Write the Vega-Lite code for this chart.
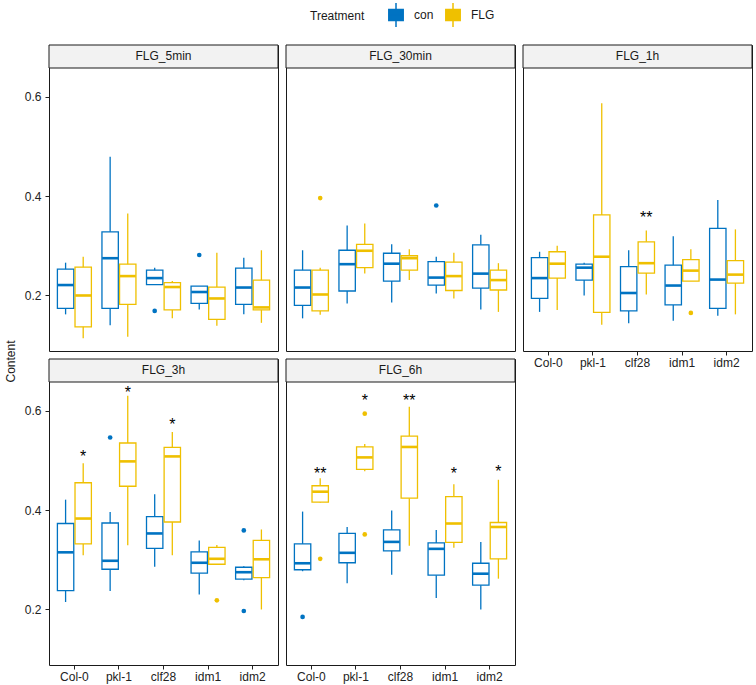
{
"$schema":"https://vega.github.io/schema/vega-lite/v6.json",
"padding":{"left":3,"top":2,"right":2,"bottom":2},
"config":{"font":"Liberation Sans","view":{"stroke":"#1a1a1a","strokeWidth":1},"axis":{"grid":false}},
"datasets":{
"panels":[{"Time":"FLG_5min"},{"Time":"FLG_30min"},{"Time":"FLG_1h"},{"Time":"FLG_3h"},{"Time":"FLG_6h"}],
"box":[
{"Time":"FLG_5min","Genotype":"Col-0","Treatment":"con","lower":0.162,"q1":0.174,"median":0.221,"q3":0.253,"upper":0.266},
{"Time":"FLG_5min","Genotype":"Col-0","Treatment":"FLG","lower":0.114,"q1":0.137,"median":0.200,"q3":0.257,"upper":0.278},
{"Time":"FLG_5min","Genotype":"pkl-1","Treatment":"con","lower":0.140,"q1":0.174,"median":0.275,"q3":0.328,"upper":0.479},
{"Time":"FLG_5min","Genotype":"pkl-1","Treatment":"FLG","lower":0.117,"q1":0.182,"median":0.239,"q3":0.263,"upper":0.365},
{"Time":"FLG_5min","Genotype":"clf28","Treatment":"con","lower":0.222,"q1":0.222,"median":0.235,"q3":0.251,"upper":0.256},
{"Time":"FLG_5min","Genotype":"clf28","Treatment":"FLG","lower":0.154,"q1":0.171,"median":0.217,"q3":0.226,"upper":0.229},
{"Time":"FLG_5min","Genotype":"idm1","Treatment":"con","lower":0.172,"q1":0.184,"median":0.207,"q3":0.219,"upper":0.219},
{"Time":"FLG_5min","Genotype":"idm1","Treatment":"FLG","lower":0.139,"q1":0.152,"median":0.194,"q3":0.217,"upper":0.286},
{"Time":"FLG_5min","Genotype":"idm2","Treatment":"con","lower":0.162,"q1":0.182,"median":0.216,"q3":0.255,"upper":0.276},
{"Time":"FLG_5min","Genotype":"idm2","Treatment":"FLG","lower":0.145,"q1":0.171,"median":0.176,"q3":0.231,"upper":0.291},
{"Time":"FLG_30min","Genotype":"Col-0","Treatment":"con","lower":0.154,"q1":0.180,"median":0.216,"q3":0.251,"upper":0.291},
{"Time":"FLG_30min","Genotype":"Col-0","Treatment":"FLG","lower":0.161,"q1":0.169,"median":0.202,"q3":0.251,"upper":0.256},
{"Time":"FLG_30min","Genotype":"pkl-1","Treatment":"con","lower":0.184,"q1":0.209,"median":0.263,"q3":0.291,"upper":0.341},
{"Time":"FLG_30min","Genotype":"pkl-1","Treatment":"FLG","lower":0.244,"q1":0.256,"median":0.290,"q3":0.303,"upper":0.345},
{"Time":"FLG_30min","Genotype":"clf28","Treatment":"con","lower":0.186,"q1":0.229,"median":0.264,"q3":0.285,"upper":0.303},
{"Time":"FLG_30min","Genotype":"clf28","Treatment":"FLG","lower":0.231,"q1":0.251,"median":0.275,"q3":0.280,"upper":0.293},
{"Time":"FLG_30min","Genotype":"idm1","Treatment":"con","lower":0.204,"q1":0.221,"median":0.236,"q3":0.268,"upper":0.278},
{"Time":"FLG_30min","Genotype":"idm1","Treatment":"FLG","lower":0.194,"q1":0.210,"median":0.239,"q3":0.267,"upper":0.286},
{"Time":"FLG_30min","Genotype":"idm2","Treatment":"con","lower":0.172,"q1":0.215,"median":0.244,"q3":0.302,"upper":0.322},
{"Time":"FLG_30min","Genotype":"idm2","Treatment":"FLG","lower":0.167,"q1":0.211,"median":0.231,"q3":0.251,"upper":0.265},
{"Time":"FLG_1h","Genotype":"Col-0","Treatment":"con","lower":0.167,"q1":0.194,"median":0.235,"q3":0.276,"upper":0.288},
{"Time":"FLG_1h","Genotype":"Col-0","Treatment":"FLG","lower":0.171,"q1":0.235,"median":0.264,"q3":0.288,"upper":0.300},
{"Time":"FLG_1h","Genotype":"pkl-1","Treatment":"con","lower":0.200,"q1":0.231,"median":0.256,"q3":0.263,"upper":0.266},
{"Time":"FLG_1h","Genotype":"pkl-1","Treatment":"FLG","lower":0.141,"q1":0.166,"median":0.278,"q3":0.362,"upper":0.587},
{"Time":"FLG_1h","Genotype":"clf28","Treatment":"con","lower":0.144,"q1":0.169,"median":0.205,"q3":0.258,"upper":0.291},
{"Time":"FLG_1h","Genotype":"clf28","Treatment":"FLG","lower":0.202,"q1":0.245,"median":0.265,"q3":0.308,"upper":0.331},
{"Time":"FLG_1h","Genotype":"idm1","Treatment":"con","lower":0.149,"q1":0.181,"median":0.220,"q3":0.261,"upper":0.319},
{"Time":"FLG_1h","Genotype":"idm1","Treatment":"FLG","lower":0.229,"q1":0.229,"median":0.250,"q3":0.272,"upper":0.293},
{"Time":"FLG_1h","Genotype":"idm2","Treatment":"con","lower":0.159,"q1":0.174,"median":0.232,"q3":0.335,"upper":0.392},
{"Time":"FLG_1h","Genotype":"idm2","Treatment":"FLG","lower":0.162,"q1":0.225,"median":0.242,"q3":0.270,"upper":0.333},
{"Time":"FLG_3h","Genotype":"Col-0","Treatment":"con","lower":0.215,"q1":0.238,"median":0.315,"q3":0.373,"upper":0.421},
{"Time":"FLG_3h","Genotype":"Col-0","Treatment":"FLG","lower":0.309,"q1":0.332,"median":0.383,"q3":0.455,"upper":0.494},
{"Time":"FLG_3h","Genotype":"pkl-1","Treatment":"con","lower":0.237,"q1":0.281,"median":0.298,"q3":0.374,"upper":0.396},
{"Time":"FLG_3h","Genotype":"pkl-1","Treatment":"FLG","lower":0.329,"q1":0.448,"median":0.498,"q3":0.535,"upper":0.630},
{"Time":"FLG_3h","Genotype":"clf28","Treatment":"con","lower":0.286,"q1":0.323,"median":0.353,"q3":0.387,"upper":0.432},
{"Time":"FLG_3h","Genotype":"clf28","Treatment":"FLG","lower":0.309,"q1":0.376,"median":0.508,"q3":0.526,"upper":0.557},
{"Time":"FLG_3h","Genotype":"idm1","Treatment":"con","lower":0.230,"q1":0.273,"median":0.294,"q3":0.316,"upper":0.339},
{"Time":"FLG_3h","Genotype":"idm1","Treatment":"FLG","lower":0.291,"q1":0.291,"median":0.302,"q3":0.325,"upper":0.330},
{"Time":"FLG_3h","Genotype":"idm2","Treatment":"con","lower":0.259,"q1":0.261,"median":0.275,"q3":0.285,"upper":0.287},
{"Time":"FLG_3h","Genotype":"idm2","Treatment":"FLG","lower":0.200,"q1":0.264,"median":0.301,"q3":0.339,"upper":0.361},
{"Time":"FLG_6h","Genotype":"Col-0","Treatment":"con","lower":0.277,"q1":0.280,"median":0.293,"q3":0.332,"upper":0.397},
{"Time":"FLG_6h","Genotype":"Col-0","Treatment":"FLG","lower":0.415,"q1":0.416,"median":0.437,"q3":0.449,"upper":0.464},
{"Time":"FLG_6h","Genotype":"pkl-1","Treatment":"con","lower":0.253,"q1":0.294,"median":0.314,"q3":0.353,"upper":0.366},
{"Time":"FLG_6h","Genotype":"pkl-1","Treatment":"FLG","lower":0.478,"q1":0.482,"median":0.506,"q3":0.527,"upper":0.533},
{"Time":"FLG_6h","Genotype":"clf28","Treatment":"con","lower":0.270,"q1":0.318,"median":0.336,"q3":0.360,"upper":0.399},
{"Time":"FLG_6h","Genotype":"clf28","Treatment":"FLG","lower":0.328,"q1":0.424,"median":0.527,"q3":0.549,"upper":0.608},
{"Time":"FLG_6h","Genotype":"idm1","Treatment":"con","lower":0.223,"q1":0.269,"median":0.322,"q3":0.334,"upper":0.360},
{"Time":"FLG_6h","Genotype":"idm1","Treatment":"FLG","lower":0.324,"q1":0.335,"median":0.373,"q3":0.427,"upper":0.452},
{"Time":"FLG_6h","Genotype":"idm2","Treatment":"con","lower":0.200,"q1":0.249,"median":0.272,"q3":0.293,"upper":0.336},
{"Time":"FLG_6h","Genotype":"idm2","Treatment":"FLG","lower":0.262,"q1":0.302,"median":0.366,"q3":0.375,"upper":0.461}
],
"out":[
{"Time":"FLG_5min","Genotype":"clf28","Treatment":"con","value":0.169},
{"Time":"FLG_5min","Genotype":"idm1","Treatment":"con","value":0.2815},
{"Time":"FLG_30min","Genotype":"Col-0","Treatment":"FLG","value":0.396},
{"Time":"FLG_30min","Genotype":"idm1","Treatment":"con","value":0.381},
{"Time":"FLG_1h","Genotype":"idm1","Treatment":"FLG","value":0.165},
{"Time":"FLG_3h","Genotype":"pkl-1","Treatment":"con","value":0.546},
{"Time":"FLG_3h","Genotype":"idm1","Treatment":"FLG","value":0.2185},
{"Time":"FLG_3h","Genotype":"idm2","Treatment":"con","value":0.359},
{"Time":"FLG_3h","Genotype":"idm2","Treatment":"con","value":0.197},
{"Time":"FLG_6h","Genotype":"Col-0","Treatment":"con","value":0.185},
{"Time":"FLG_6h","Genotype":"Col-0","Treatment":"FLG","value":0.302},
{"Time":"FLG_6h","Genotype":"pkl-1","Treatment":"FLG","value":0.594},
{"Time":"FLG_6h","Genotype":"pkl-1","Treatment":"FLG","value":0.351}
],
"sig":[
{"Time":"FLG_1h","Genotype":"clf28","Treatment":"FLG","y":0.362,"label":"**"},
{"Time":"FLG_3h","Genotype":"Col-0","Treatment":"FLG","y":0.513,"label":"*"},
{"Time":"FLG_3h","Genotype":"pkl-1","Treatment":"FLG","y":0.642,"label":"*"},
{"Time":"FLG_3h","Genotype":"clf28","Treatment":"FLG","y":0.577,"label":"*"},
{"Time":"FLG_6h","Genotype":"Col-0","Treatment":"FLG","y":0.478,"label":"**"},
{"Time":"FLG_6h","Genotype":"pkl-1","Treatment":"FLG","y":0.625,"label":"*"},
{"Time":"FLG_6h","Genotype":"clf28","Treatment":"FLG","y":0.626,"label":"**"},
{"Time":"FLG_6h","Genotype":"idm1","Treatment":"FLG","y":0.478,"label":"*"},
{"Time":"FLG_6h","Genotype":"idm2","Treatment":"FLG","y":0.482,"label":"*"}
]
},
"columns":3,
"spacing":8,
"bounds":"flush",
"resolve":{"scale":{"color":"shared"},"legend":{"color":"shared"}},
"concat":[
{"width":229,"height":306,"layer":[
{"data":{"name":"panels"},"transform":[{"filter":"datum.Time==='FLG_5min'"}],"mark":{"type":"rect","fill":"#F2F2F2","stroke":"#1a1a1a","strokeWidth":1},"encoding":{"y":{"datum":0.704,"type":"quantitative","scale":{"domain":[0.0883,0.704],"nice":false,"zero":false},"axis":{"values":[0.2,0.4,0.6],"format":".1f","title":null,"domain":false,"tickSize":4,"tickColor":"#222","labelColor":"#222","labelFontSize":12,"labelPadding":4}},"y2":{"datum":0.6577}}},
{"data":{"name":"panels"},"transform":[{"filter":"datum.Time==='FLG_5min'"}],"mark":{"type":"text","fontSize":12,"color":"#1a1a1a","baseline":"middle"},"encoding":{"y":{"datum":0.681,"type":"quantitative","scale":{"domain":[0.0883,0.704],"nice":false,"zero":false},"axis":{"values":[0.2,0.4,0.6],"format":".1f","title":null,"domain":false,"tickSize":4,"tickColor":"#222","labelColor":"#222","labelFontSize":12,"labelPadding":4}},"text":{"field":"Time"}}},
{"data":{"name":"box"},"transform":[{"filter":"datum.Time==='FLG_5min'"}],"mark":{"type":"rule","strokeWidth":1.3,"opacity":1},"encoding":{"x":{"field":"Genotype","type":"nominal","scale":{"domain":["Col-0","pkl-1","clf28","idm1","idm2"],"paddingInner":0,"paddingOuter":0.07},"axis":null},"xOffset":{"field":"Treatment","type":"nominal","scale":{"domain":["con","FLG"],"paddingInner":0.07,"paddingOuter":0.3}},"y":{"field":"lower","type":"quantitative","scale":{"domain":[0.0883,0.704],"nice":false,"zero":false},"axis":{"values":[0.2,0.4,0.6],"format":".1f","title":null,"domain":false,"tickSize":4,"tickColor":"#222","labelColor":"#222","labelFontSize":12,"labelPadding":4}},"y2":{"field":"q1"},"color":{"field":"Treatment","type":"nominal","scale":{"domain":["con","FLG"],"range":["#0073C2","#EFC000"]},"legend":{"title":"Treatment","orient":"none","legendX":261,"legendY":-43,"direction":"horizontal","titleOrient":"left","titleAnchor":"middle","titlePadding":18,"titleFontSize":12,"titleFontWeight":"normal","titleColor":"#1a1a1a","labelFontSize":12,"labelColor":"#1a1a1a","labelOffset":5,"columnPadding":6,"symbolType":"M-0.6,-0.45H0.6V0.45H-0.6Z M-0.6,0H0.6 M0,-0.45V-1 M0,0.45V1","symbolSize":576,"symbolStrokeWidth":1.5,"symbolOpacity":1,"symbolFillColor":"transparent","encode":{"symbols":{"update":{"fill":{"value":"transparent"},"stroke":{"scale":"color","field":"value"},"opacity":{"value":1}}}}}}}},
{"data":{"name":"box"},"transform":[{"filter":"datum.Time==='FLG_5min'"}],"mark":{"type":"rule","strokeWidth":1.3,"opacity":1},"encoding":{"x":{"field":"Genotype","type":"nominal","scale":{"domain":["Col-0","pkl-1","clf28","idm1","idm2"],"paddingInner":0,"paddingOuter":0.07},"axis":null},"xOffset":{"field":"Treatment","type":"nominal","scale":{"domain":["con","FLG"],"paddingInner":0.07,"paddingOuter":0.3}},"y":{"field":"q3","type":"quantitative","scale":{"domain":[0.0883,0.704],"nice":false,"zero":false},"axis":{"values":[0.2,0.4,0.6],"format":".1f","title":null,"domain":false,"tickSize":4,"tickColor":"#222","labelColor":"#222","labelFontSize":12,"labelPadding":4}},"y2":{"field":"upper"},"color":{"field":"Treatment","type":"nominal","scale":{"domain":["con","FLG"],"range":["#0073C2","#EFC000"]},"legend":{"title":"Treatment","orient":"none","legendX":261,"legendY":-43,"direction":"horizontal","titleOrient":"left","titleAnchor":"middle","titlePadding":18,"titleFontSize":12,"titleFontWeight":"normal","titleColor":"#1a1a1a","labelFontSize":12,"labelColor":"#1a1a1a","labelOffset":5,"columnPadding":6,"symbolType":"M-0.6,-0.45H0.6V0.45H-0.6Z M-0.6,0H0.6 M0,-0.45V-1 M0,0.45V1","symbolSize":576,"symbolStrokeWidth":1.5,"symbolOpacity":1,"symbolFillColor":"transparent","encode":{"symbols":{"update":{"fill":{"value":"transparent"},"stroke":{"scale":"color","field":"value"},"opacity":{"value":1}}}}}}}},
{"data":{"name":"box"},"transform":[{"filter":"datum.Time==='FLG_5min'"}],"mark":{"type":"bar","filled":false,"strokeWidth":1.3,"opacity":1},"encoding":{"x":{"field":"Genotype","type":"nominal","scale":{"domain":["Col-0","pkl-1","clf28","idm1","idm2"],"paddingInner":0,"paddingOuter":0.07},"axis":null},"xOffset":{"field":"Treatment","type":"nominal","scale":{"domain":["con","FLG"],"paddingInner":0.07,"paddingOuter":0.3}},"y":{"field":"q1","type":"quantitative","scale":{"domain":[0.0883,0.704],"nice":false,"zero":false},"axis":{"values":[0.2,0.4,0.6],"format":".1f","title":null,"domain":false,"tickSize":4,"tickColor":"#222","labelColor":"#222","labelFontSize":12,"labelPadding":4}},"y2":{"field":"q3"},"color":{"field":"Treatment","type":"nominal","scale":{"domain":["con","FLG"],"range":["#0073C2","#EFC000"]},"legend":{"title":"Treatment","orient":"none","legendX":261,"legendY":-43,"direction":"horizontal","titleOrient":"left","titleAnchor":"middle","titlePadding":18,"titleFontSize":12,"titleFontWeight":"normal","titleColor":"#1a1a1a","labelFontSize":12,"labelColor":"#1a1a1a","labelOffset":5,"columnPadding":6,"symbolType":"M-0.6,-0.45H0.6V0.45H-0.6Z M-0.6,0H0.6 M0,-0.45V-1 M0,0.45V1","symbolSize":576,"symbolStrokeWidth":1.5,"symbolOpacity":1,"symbolFillColor":"transparent","encode":{"symbols":{"update":{"fill":{"value":"transparent"},"stroke":{"scale":"color","field":"value"},"opacity":{"value":1}}}}}}}},
{"data":{"name":"box"},"transform":[{"filter":"datum.Time==='FLG_5min'"}],"mark":{"type":"tick","orient":"horizontal","thickness":2.6,"size":16,"opacity":1},"encoding":{"x":{"field":"Genotype","type":"nominal","scale":{"domain":["Col-0","pkl-1","clf28","idm1","idm2"],"paddingInner":0,"paddingOuter":0.07},"axis":null},"xOffset":{"field":"Treatment","type":"nominal","scale":{"domain":["con","FLG"],"paddingInner":0.07,"paddingOuter":0.3}},"y":{"field":"median","type":"quantitative","scale":{"domain":[0.0883,0.704],"nice":false,"zero":false},"axis":{"values":[0.2,0.4,0.6],"format":".1f","title":null,"domain":false,"tickSize":4,"tickColor":"#222","labelColor":"#222","labelFontSize":12,"labelPadding":4}},"color":{"field":"Treatment","type":"nominal","scale":{"domain":["con","FLG"],"range":["#0073C2","#EFC000"]},"legend":{"title":"Treatment","orient":"none","legendX":261,"legendY":-43,"direction":"horizontal","titleOrient":"left","titleAnchor":"middle","titlePadding":18,"titleFontSize":12,"titleFontWeight":"normal","titleColor":"#1a1a1a","labelFontSize":12,"labelColor":"#1a1a1a","labelOffset":5,"columnPadding":6,"symbolType":"M-0.6,-0.45H0.6V0.45H-0.6Z M-0.6,0H0.6 M0,-0.45V-1 M0,0.45V1","symbolSize":576,"symbolStrokeWidth":1.5,"symbolOpacity":1,"symbolFillColor":"transparent","encode":{"symbols":{"update":{"fill":{"value":"transparent"},"stroke":{"scale":"color","field":"value"},"opacity":{"value":1}}}}}}}},
{"data":{"name":"out"},"transform":[{"filter":"datum.Time==='FLG_5min'"}],"mark":{"type":"point","filled":true,"size":22,"opacity":1},"encoding":{"x":{"field":"Genotype","type":"nominal","scale":{"domain":["Col-0","pkl-1","clf28","idm1","idm2"],"paddingInner":0,"paddingOuter":0.07},"axis":null},"xOffset":{"field":"Treatment","type":"nominal","scale":{"domain":["con","FLG"],"paddingInner":0.07,"paddingOuter":0.3}},"y":{"field":"value","type":"quantitative","scale":{"domain":[0.0883,0.704],"nice":false,"zero":false},"axis":{"values":[0.2,0.4,0.6],"format":".1f","title":null,"domain":false,"tickSize":4,"tickColor":"#222","labelColor":"#222","labelFontSize":12,"labelPadding":4}},"color":{"field":"Treatment","type":"nominal","scale":{"domain":["con","FLG"],"range":["#0073C2","#EFC000"]},"legend":{"title":"Treatment","orient":"none","legendX":261,"legendY":-43,"direction":"horizontal","titleOrient":"left","titleAnchor":"middle","titlePadding":18,"titleFontSize":12,"titleFontWeight":"normal","titleColor":"#1a1a1a","labelFontSize":12,"labelColor":"#1a1a1a","labelOffset":5,"columnPadding":6,"symbolType":"M-0.6,-0.45H0.6V0.45H-0.6Z M-0.6,0H0.6 M0,-0.45V-1 M0,0.45V1","symbolSize":576,"symbolStrokeWidth":1.5,"symbolOpacity":1,"symbolFillColor":"transparent","encode":{"symbols":{"update":{"fill":{"value":"transparent"},"stroke":{"scale":"color","field":"value"},"opacity":{"value":1}}}}}}}}
]},
{"width":229,"height":306,"layer":[
{"data":{"name":"panels"},"transform":[{"filter":"datum.Time==='FLG_30min'"}],"mark":{"type":"rect","fill":"#F2F2F2","stroke":"#1a1a1a","strokeWidth":1},"encoding":{"y":{"datum":0.704,"type":"quantitative","scale":{"domain":[0.0883,0.704],"nice":false,"zero":false},"axis":null},"y2":{"datum":0.6577}}},
{"data":{"name":"panels"},"transform":[{"filter":"datum.Time==='FLG_30min'"}],"mark":{"type":"text","fontSize":12,"color":"#1a1a1a","baseline":"middle"},"encoding":{"y":{"datum":0.681,"type":"quantitative","scale":{"domain":[0.0883,0.704],"nice":false,"zero":false},"axis":null},"text":{"field":"Time"}}},
{"data":{"name":"box"},"transform":[{"filter":"datum.Time==='FLG_30min'"}],"mark":{"type":"rule","strokeWidth":1.3,"opacity":1},"encoding":{"x":{"field":"Genotype","type":"nominal","scale":{"domain":["Col-0","pkl-1","clf28","idm1","idm2"],"paddingInner":0,"paddingOuter":0.07},"axis":null},"xOffset":{"field":"Treatment","type":"nominal","scale":{"domain":["con","FLG"],"paddingInner":0.07,"paddingOuter":0.3}},"y":{"field":"lower","type":"quantitative","scale":{"domain":[0.0883,0.704],"nice":false,"zero":false},"axis":null},"y2":{"field":"q1"},"color":{"field":"Treatment","type":"nominal","scale":{"domain":["con","FLG"],"range":["#0073C2","#EFC000"]}}}},
{"data":{"name":"box"},"transform":[{"filter":"datum.Time==='FLG_30min'"}],"mark":{"type":"rule","strokeWidth":1.3,"opacity":1},"encoding":{"x":{"field":"Genotype","type":"nominal","scale":{"domain":["Col-0","pkl-1","clf28","idm1","idm2"],"paddingInner":0,"paddingOuter":0.07},"axis":null},"xOffset":{"field":"Treatment","type":"nominal","scale":{"domain":["con","FLG"],"paddingInner":0.07,"paddingOuter":0.3}},"y":{"field":"q3","type":"quantitative","scale":{"domain":[0.0883,0.704],"nice":false,"zero":false},"axis":null},"y2":{"field":"upper"},"color":{"field":"Treatment","type":"nominal","scale":{"domain":["con","FLG"],"range":["#0073C2","#EFC000"]}}}},
{"data":{"name":"box"},"transform":[{"filter":"datum.Time==='FLG_30min'"}],"mark":{"type":"bar","filled":false,"strokeWidth":1.3,"opacity":1},"encoding":{"x":{"field":"Genotype","type":"nominal","scale":{"domain":["Col-0","pkl-1","clf28","idm1","idm2"],"paddingInner":0,"paddingOuter":0.07},"axis":null},"xOffset":{"field":"Treatment","type":"nominal","scale":{"domain":["con","FLG"],"paddingInner":0.07,"paddingOuter":0.3}},"y":{"field":"q1","type":"quantitative","scale":{"domain":[0.0883,0.704],"nice":false,"zero":false},"axis":null},"y2":{"field":"q3"},"color":{"field":"Treatment","type":"nominal","scale":{"domain":["con","FLG"],"range":["#0073C2","#EFC000"]}}}},
{"data":{"name":"box"},"transform":[{"filter":"datum.Time==='FLG_30min'"}],"mark":{"type":"tick","orient":"horizontal","thickness":2.6,"size":16,"opacity":1},"encoding":{"x":{"field":"Genotype","type":"nominal","scale":{"domain":["Col-0","pkl-1","clf28","idm1","idm2"],"paddingInner":0,"paddingOuter":0.07},"axis":null},"xOffset":{"field":"Treatment","type":"nominal","scale":{"domain":["con","FLG"],"paddingInner":0.07,"paddingOuter":0.3}},"y":{"field":"median","type":"quantitative","scale":{"domain":[0.0883,0.704],"nice":false,"zero":false},"axis":null},"color":{"field":"Treatment","type":"nominal","scale":{"domain":["con","FLG"],"range":["#0073C2","#EFC000"]}}}},
{"data":{"name":"out"},"transform":[{"filter":"datum.Time==='FLG_30min'"}],"mark":{"type":"point","filled":true,"size":22,"opacity":1},"encoding":{"x":{"field":"Genotype","type":"nominal","scale":{"domain":["Col-0","pkl-1","clf28","idm1","idm2"],"paddingInner":0,"paddingOuter":0.07},"axis":null},"xOffset":{"field":"Treatment","type":"nominal","scale":{"domain":["con","FLG"],"paddingInner":0.07,"paddingOuter":0.3}},"y":{"field":"value","type":"quantitative","scale":{"domain":[0.0883,0.704],"nice":false,"zero":false},"axis":null},"color":{"field":"Treatment","type":"nominal","scale":{"domain":["con","FLG"],"range":["#0073C2","#EFC000"]}}}}
]},
{"width":229,"height":306,"layer":[
{"data":{"name":"panels"},"transform":[{"filter":"datum.Time==='FLG_1h'"}],"mark":{"type":"rect","fill":"#F2F2F2","stroke":"#1a1a1a","strokeWidth":1},"encoding":{"y":{"datum":0.704,"type":"quantitative","scale":{"domain":[0.0883,0.704],"nice":false,"zero":false},"axis":null},"y2":{"datum":0.6577}}},
{"data":{"name":"panels"},"transform":[{"filter":"datum.Time==='FLG_1h'"}],"mark":{"type":"text","fontSize":12,"color":"#1a1a1a","baseline":"middle"},"encoding":{"y":{"datum":0.681,"type":"quantitative","scale":{"domain":[0.0883,0.704],"nice":false,"zero":false},"axis":null},"text":{"field":"Time"}}},
{"data":{"name":"box"},"transform":[{"filter":"datum.Time==='FLG_1h'"}],"mark":{"type":"rule","strokeWidth":1.3,"opacity":1},"encoding":{"x":{"field":"Genotype","type":"nominal","scale":{"domain":["Col-0","pkl-1","clf28","idm1","idm2"],"paddingInner":0,"paddingOuter":0.07},"axis":{"title":null,"labelAngle":0,"domain":false,"tickSize":4,"tickColor":"#222","labelColor":"#222","labelFontSize":12,"labelPadding":2}},"xOffset":{"field":"Treatment","type":"nominal","scale":{"domain":["con","FLG"],"paddingInner":0.07,"paddingOuter":0.3}},"y":{"field":"lower","type":"quantitative","scale":{"domain":[0.0883,0.704],"nice":false,"zero":false},"axis":null},"y2":{"field":"q1"},"color":{"field":"Treatment","type":"nominal","scale":{"domain":["con","FLG"],"range":["#0073C2","#EFC000"]}}}},
{"data":{"name":"box"},"transform":[{"filter":"datum.Time==='FLG_1h'"}],"mark":{"type":"rule","strokeWidth":1.3,"opacity":1},"encoding":{"x":{"field":"Genotype","type":"nominal","scale":{"domain":["Col-0","pkl-1","clf28","idm1","idm2"],"paddingInner":0,"paddingOuter":0.07},"axis":{"title":null,"labelAngle":0,"domain":false,"tickSize":4,"tickColor":"#222","labelColor":"#222","labelFontSize":12,"labelPadding":2}},"xOffset":{"field":"Treatment","type":"nominal","scale":{"domain":["con","FLG"],"paddingInner":0.07,"paddingOuter":0.3}},"y":{"field":"q3","type":"quantitative","scale":{"domain":[0.0883,0.704],"nice":false,"zero":false},"axis":null},"y2":{"field":"upper"},"color":{"field":"Treatment","type":"nominal","scale":{"domain":["con","FLG"],"range":["#0073C2","#EFC000"]}}}},
{"data":{"name":"box"},"transform":[{"filter":"datum.Time==='FLG_1h'"}],"mark":{"type":"bar","filled":false,"strokeWidth":1.3,"opacity":1},"encoding":{"x":{"field":"Genotype","type":"nominal","scale":{"domain":["Col-0","pkl-1","clf28","idm1","idm2"],"paddingInner":0,"paddingOuter":0.07},"axis":{"title":null,"labelAngle":0,"domain":false,"tickSize":4,"tickColor":"#222","labelColor":"#222","labelFontSize":12,"labelPadding":2}},"xOffset":{"field":"Treatment","type":"nominal","scale":{"domain":["con","FLG"],"paddingInner":0.07,"paddingOuter":0.3}},"y":{"field":"q1","type":"quantitative","scale":{"domain":[0.0883,0.704],"nice":false,"zero":false},"axis":null},"y2":{"field":"q3"},"color":{"field":"Treatment","type":"nominal","scale":{"domain":["con","FLG"],"range":["#0073C2","#EFC000"]}}}},
{"data":{"name":"box"},"transform":[{"filter":"datum.Time==='FLG_1h'"}],"mark":{"type":"tick","orient":"horizontal","thickness":2.6,"size":16,"opacity":1},"encoding":{"x":{"field":"Genotype","type":"nominal","scale":{"domain":["Col-0","pkl-1","clf28","idm1","idm2"],"paddingInner":0,"paddingOuter":0.07},"axis":{"title":null,"labelAngle":0,"domain":false,"tickSize":4,"tickColor":"#222","labelColor":"#222","labelFontSize":12,"labelPadding":2}},"xOffset":{"field":"Treatment","type":"nominal","scale":{"domain":["con","FLG"],"paddingInner":0.07,"paddingOuter":0.3}},"y":{"field":"median","type":"quantitative","scale":{"domain":[0.0883,0.704],"nice":false,"zero":false},"axis":null},"color":{"field":"Treatment","type":"nominal","scale":{"domain":["con","FLG"],"range":["#0073C2","#EFC000"]}}}},
{"data":{"name":"out"},"transform":[{"filter":"datum.Time==='FLG_1h'"}],"mark":{"type":"point","filled":true,"size":22,"opacity":1},"encoding":{"x":{"field":"Genotype","type":"nominal","scale":{"domain":["Col-0","pkl-1","clf28","idm1","idm2"],"paddingInner":0,"paddingOuter":0.07},"axis":{"title":null,"labelAngle":0,"domain":false,"tickSize":4,"tickColor":"#222","labelColor":"#222","labelFontSize":12,"labelPadding":2}},"xOffset":{"field":"Treatment","type":"nominal","scale":{"domain":["con","FLG"],"paddingInner":0.07,"paddingOuter":0.3}},"y":{"field":"value","type":"quantitative","scale":{"domain":[0.0883,0.704],"nice":false,"zero":false},"axis":null},"color":{"field":"Treatment","type":"nominal","scale":{"domain":["con","FLG"],"range":["#0073C2","#EFC000"]}}}},
{"data":{"name":"sig"},"transform":[{"filter":"datum.Time==='FLG_1h'"}],"mark":{"type":"text","fontSize":16,"baseline":"middle","dy":3,"color":"black"},"encoding":{"x":{"field":"Genotype","type":"nominal","scale":{"domain":["Col-0","pkl-1","clf28","idm1","idm2"],"paddingInner":0,"paddingOuter":0.07},"axis":{"title":null,"labelAngle":0,"domain":false,"tickSize":4,"tickColor":"#222","labelColor":"#222","labelFontSize":12,"labelPadding":2}},"xOffset":{"field":"Treatment","type":"nominal","scale":{"domain":["con","FLG"],"paddingInner":0.07,"paddingOuter":0.3}},"y":{"field":"y","type":"quantitative","scale":{"domain":[0.0883,0.704],"nice":false,"zero":false},"axis":null},"text":{"field":"label"}}}
]},
{"width":229,"height":306,"layer":[
{"data":{"name":"panels"},"transform":[{"filter":"datum.Time==='FLG_3h'"}],"mark":{"type":"rect","fill":"#F2F2F2","stroke":"#1a1a1a","strokeWidth":1},"encoding":{"y":{"datum":0.704,"type":"quantitative","scale":{"domain":[0.0883,0.704],"nice":false,"zero":false},"axis":{"values":[0.2,0.4,0.6],"format":".1f","title":"Content","titleY":2,"titleFontSize":12,"titleFontWeight":"normal","titleColor":"#1a1a1a","titlePadding":7,"domain":false,"tickSize":4,"tickColor":"#222","labelColor":"#222","labelFontSize":12,"labelPadding":4}},"y2":{"datum":0.6577}}},
{"data":{"name":"panels"},"transform":[{"filter":"datum.Time==='FLG_3h'"}],"mark":{"type":"text","fontSize":12,"color":"#1a1a1a","baseline":"middle"},"encoding":{"y":{"datum":0.681,"type":"quantitative","scale":{"domain":[0.0883,0.704],"nice":false,"zero":false},"axis":{"values":[0.2,0.4,0.6],"format":".1f","title":"Content","titleY":2,"titleFontSize":12,"titleFontWeight":"normal","titleColor":"#1a1a1a","titlePadding":7,"domain":false,"tickSize":4,"tickColor":"#222","labelColor":"#222","labelFontSize":12,"labelPadding":4}},"text":{"field":"Time"}}},
{"data":{"name":"box"},"transform":[{"filter":"datum.Time==='FLG_3h'"}],"mark":{"type":"rule","strokeWidth":1.3,"opacity":1},"encoding":{"x":{"field":"Genotype","type":"nominal","scale":{"domain":["Col-0","pkl-1","clf28","idm1","idm2"],"paddingInner":0,"paddingOuter":0.07},"axis":{"title":null,"labelAngle":0,"domain":false,"tickSize":4,"tickColor":"#222","labelColor":"#222","labelFontSize":12,"labelPadding":2}},"xOffset":{"field":"Treatment","type":"nominal","scale":{"domain":["con","FLG"],"paddingInner":0.07,"paddingOuter":0.3}},"y":{"field":"lower","type":"quantitative","scale":{"domain":[0.0883,0.704],"nice":false,"zero":false},"axis":{"values":[0.2,0.4,0.6],"format":".1f","title":"Content","titleY":2,"titleFontSize":12,"titleFontWeight":"normal","titleColor":"#1a1a1a","titlePadding":7,"domain":false,"tickSize":4,"tickColor":"#222","labelColor":"#222","labelFontSize":12,"labelPadding":4}},"y2":{"field":"q1"},"color":{"field":"Treatment","type":"nominal","scale":{"domain":["con","FLG"],"range":["#0073C2","#EFC000"]}}}},
{"data":{"name":"box"},"transform":[{"filter":"datum.Time==='FLG_3h'"}],"mark":{"type":"rule","strokeWidth":1.3,"opacity":1},"encoding":{"x":{"field":"Genotype","type":"nominal","scale":{"domain":["Col-0","pkl-1","clf28","idm1","idm2"],"paddingInner":0,"paddingOuter":0.07},"axis":{"title":null,"labelAngle":0,"domain":false,"tickSize":4,"tickColor":"#222","labelColor":"#222","labelFontSize":12,"labelPadding":2}},"xOffset":{"field":"Treatment","type":"nominal","scale":{"domain":["con","FLG"],"paddingInner":0.07,"paddingOuter":0.3}},"y":{"field":"q3","type":"quantitative","scale":{"domain":[0.0883,0.704],"nice":false,"zero":false},"axis":{"values":[0.2,0.4,0.6],"format":".1f","title":"Content","titleY":2,"titleFontSize":12,"titleFontWeight":"normal","titleColor":"#1a1a1a","titlePadding":7,"domain":false,"tickSize":4,"tickColor":"#222","labelColor":"#222","labelFontSize":12,"labelPadding":4}},"y2":{"field":"upper"},"color":{"field":"Treatment","type":"nominal","scale":{"domain":["con","FLG"],"range":["#0073C2","#EFC000"]}}}},
{"data":{"name":"box"},"transform":[{"filter":"datum.Time==='FLG_3h'"}],"mark":{"type":"bar","filled":false,"strokeWidth":1.3,"opacity":1},"encoding":{"x":{"field":"Genotype","type":"nominal","scale":{"domain":["Col-0","pkl-1","clf28","idm1","idm2"],"paddingInner":0,"paddingOuter":0.07},"axis":{"title":null,"labelAngle":0,"domain":false,"tickSize":4,"tickColor":"#222","labelColor":"#222","labelFontSize":12,"labelPadding":2}},"xOffset":{"field":"Treatment","type":"nominal","scale":{"domain":["con","FLG"],"paddingInner":0.07,"paddingOuter":0.3}},"y":{"field":"q1","type":"quantitative","scale":{"domain":[0.0883,0.704],"nice":false,"zero":false},"axis":{"values":[0.2,0.4,0.6],"format":".1f","title":"Content","titleY":2,"titleFontSize":12,"titleFontWeight":"normal","titleColor":"#1a1a1a","titlePadding":7,"domain":false,"tickSize":4,"tickColor":"#222","labelColor":"#222","labelFontSize":12,"labelPadding":4}},"y2":{"field":"q3"},"color":{"field":"Treatment","type":"nominal","scale":{"domain":["con","FLG"],"range":["#0073C2","#EFC000"]}}}},
{"data":{"name":"box"},"transform":[{"filter":"datum.Time==='FLG_3h'"}],"mark":{"type":"tick","orient":"horizontal","thickness":2.6,"size":16,"opacity":1},"encoding":{"x":{"field":"Genotype","type":"nominal","scale":{"domain":["Col-0","pkl-1","clf28","idm1","idm2"],"paddingInner":0,"paddingOuter":0.07},"axis":{"title":null,"labelAngle":0,"domain":false,"tickSize":4,"tickColor":"#222","labelColor":"#222","labelFontSize":12,"labelPadding":2}},"xOffset":{"field":"Treatment","type":"nominal","scale":{"domain":["con","FLG"],"paddingInner":0.07,"paddingOuter":0.3}},"y":{"field":"median","type":"quantitative","scale":{"domain":[0.0883,0.704],"nice":false,"zero":false},"axis":{"values":[0.2,0.4,0.6],"format":".1f","title":"Content","titleY":2,"titleFontSize":12,"titleFontWeight":"normal","titleColor":"#1a1a1a","titlePadding":7,"domain":false,"tickSize":4,"tickColor":"#222","labelColor":"#222","labelFontSize":12,"labelPadding":4}},"color":{"field":"Treatment","type":"nominal","scale":{"domain":["con","FLG"],"range":["#0073C2","#EFC000"]}}}},
{"data":{"name":"out"},"transform":[{"filter":"datum.Time==='FLG_3h'"}],"mark":{"type":"point","filled":true,"size":22,"opacity":1},"encoding":{"x":{"field":"Genotype","type":"nominal","scale":{"domain":["Col-0","pkl-1","clf28","idm1","idm2"],"paddingInner":0,"paddingOuter":0.07},"axis":{"title":null,"labelAngle":0,"domain":false,"tickSize":4,"tickColor":"#222","labelColor":"#222","labelFontSize":12,"labelPadding":2}},"xOffset":{"field":"Treatment","type":"nominal","scale":{"domain":["con","FLG"],"paddingInner":0.07,"paddingOuter":0.3}},"y":{"field":"value","type":"quantitative","scale":{"domain":[0.0883,0.704],"nice":false,"zero":false},"axis":{"values":[0.2,0.4,0.6],"format":".1f","title":"Content","titleY":2,"titleFontSize":12,"titleFontWeight":"normal","titleColor":"#1a1a1a","titlePadding":7,"domain":false,"tickSize":4,"tickColor":"#222","labelColor":"#222","labelFontSize":12,"labelPadding":4}},"color":{"field":"Treatment","type":"nominal","scale":{"domain":["con","FLG"],"range":["#0073C2","#EFC000"]}}}},
{"data":{"name":"sig"},"transform":[{"filter":"datum.Time==='FLG_3h'"}],"mark":{"type":"text","fontSize":16,"baseline":"middle","dy":3,"color":"black"},"encoding":{"x":{"field":"Genotype","type":"nominal","scale":{"domain":["Col-0","pkl-1","clf28","idm1","idm2"],"paddingInner":0,"paddingOuter":0.07},"axis":{"title":null,"labelAngle":0,"domain":false,"tickSize":4,"tickColor":"#222","labelColor":"#222","labelFontSize":12,"labelPadding":2}},"xOffset":{"field":"Treatment","type":"nominal","scale":{"domain":["con","FLG"],"paddingInner":0.07,"paddingOuter":0.3}},"y":{"field":"y","type":"quantitative","scale":{"domain":[0.0883,0.704],"nice":false,"zero":false},"axis":{"values":[0.2,0.4,0.6],"format":".1f","title":"Content","titleY":2,"titleFontSize":12,"titleFontWeight":"normal","titleColor":"#1a1a1a","titlePadding":7,"domain":false,"tickSize":4,"tickColor":"#222","labelColor":"#222","labelFontSize":12,"labelPadding":4}},"text":{"field":"label"}}}
]},
{"width":229,"height":306,"layer":[
{"data":{"name":"panels"},"transform":[{"filter":"datum.Time==='FLG_6h'"}],"mark":{"type":"rect","fill":"#F2F2F2","stroke":"#1a1a1a","strokeWidth":1},"encoding":{"y":{"datum":0.704,"type":"quantitative","scale":{"domain":[0.0883,0.704],"nice":false,"zero":false},"axis":null},"y2":{"datum":0.6577}}},
{"data":{"name":"panels"},"transform":[{"filter":"datum.Time==='FLG_6h'"}],"mark":{"type":"text","fontSize":12,"color":"#1a1a1a","baseline":"middle"},"encoding":{"y":{"datum":0.681,"type":"quantitative","scale":{"domain":[0.0883,0.704],"nice":false,"zero":false},"axis":null},"text":{"field":"Time"}}},
{"data":{"name":"box"},"transform":[{"filter":"datum.Time==='FLG_6h'"}],"mark":{"type":"rule","strokeWidth":1.3,"opacity":1},"encoding":{"x":{"field":"Genotype","type":"nominal","scale":{"domain":["Col-0","pkl-1","clf28","idm1","idm2"],"paddingInner":0,"paddingOuter":0.07},"axis":{"title":null,"labelAngle":0,"domain":false,"tickSize":4,"tickColor":"#222","labelColor":"#222","labelFontSize":12,"labelPadding":2}},"xOffset":{"field":"Treatment","type":"nominal","scale":{"domain":["con","FLG"],"paddingInner":0.07,"paddingOuter":0.3}},"y":{"field":"lower","type":"quantitative","scale":{"domain":[0.0883,0.704],"nice":false,"zero":false},"axis":null},"y2":{"field":"q1"},"color":{"field":"Treatment","type":"nominal","scale":{"domain":["con","FLG"],"range":["#0073C2","#EFC000"]}}}},
{"data":{"name":"box"},"transform":[{"filter":"datum.Time==='FLG_6h'"}],"mark":{"type":"rule","strokeWidth":1.3,"opacity":1},"encoding":{"x":{"field":"Genotype","type":"nominal","scale":{"domain":["Col-0","pkl-1","clf28","idm1","idm2"],"paddingInner":0,"paddingOuter":0.07},"axis":{"title":null,"labelAngle":0,"domain":false,"tickSize":4,"tickColor":"#222","labelColor":"#222","labelFontSize":12,"labelPadding":2}},"xOffset":{"field":"Treatment","type":"nominal","scale":{"domain":["con","FLG"],"paddingInner":0.07,"paddingOuter":0.3}},"y":{"field":"q3","type":"quantitative","scale":{"domain":[0.0883,0.704],"nice":false,"zero":false},"axis":null},"y2":{"field":"upper"},"color":{"field":"Treatment","type":"nominal","scale":{"domain":["con","FLG"],"range":["#0073C2","#EFC000"]}}}},
{"data":{"name":"box"},"transform":[{"filter":"datum.Time==='FLG_6h'"}],"mark":{"type":"bar","filled":false,"strokeWidth":1.3,"opacity":1},"encoding":{"x":{"field":"Genotype","type":"nominal","scale":{"domain":["Col-0","pkl-1","clf28","idm1","idm2"],"paddingInner":0,"paddingOuter":0.07},"axis":{"title":null,"labelAngle":0,"domain":false,"tickSize":4,"tickColor":"#222","labelColor":"#222","labelFontSize":12,"labelPadding":2}},"xOffset":{"field":"Treatment","type":"nominal","scale":{"domain":["con","FLG"],"paddingInner":0.07,"paddingOuter":0.3}},"y":{"field":"q1","type":"quantitative","scale":{"domain":[0.0883,0.704],"nice":false,"zero":false},"axis":null},"y2":{"field":"q3"},"color":{"field":"Treatment","type":"nominal","scale":{"domain":["con","FLG"],"range":["#0073C2","#EFC000"]}}}},
{"data":{"name":"box"},"transform":[{"filter":"datum.Time==='FLG_6h'"}],"mark":{"type":"tick","orient":"horizontal","thickness":2.6,"size":16,"opacity":1},"encoding":{"x":{"field":"Genotype","type":"nominal","scale":{"domain":["Col-0","pkl-1","clf28","idm1","idm2"],"paddingInner":0,"paddingOuter":0.07},"axis":{"title":null,"labelAngle":0,"domain":false,"tickSize":4,"tickColor":"#222","labelColor":"#222","labelFontSize":12,"labelPadding":2}},"xOffset":{"field":"Treatment","type":"nominal","scale":{"domain":["con","FLG"],"paddingInner":0.07,"paddingOuter":0.3}},"y":{"field":"median","type":"quantitative","scale":{"domain":[0.0883,0.704],"nice":false,"zero":false},"axis":null},"color":{"field":"Treatment","type":"nominal","scale":{"domain":["con","FLG"],"range":["#0073C2","#EFC000"]}}}},
{"data":{"name":"out"},"transform":[{"filter":"datum.Time==='FLG_6h'"}],"mark":{"type":"point","filled":true,"size":22,"opacity":1},"encoding":{"x":{"field":"Genotype","type":"nominal","scale":{"domain":["Col-0","pkl-1","clf28","idm1","idm2"],"paddingInner":0,"paddingOuter":0.07},"axis":{"title":null,"labelAngle":0,"domain":false,"tickSize":4,"tickColor":"#222","labelColor":"#222","labelFontSize":12,"labelPadding":2}},"xOffset":{"field":"Treatment","type":"nominal","scale":{"domain":["con","FLG"],"paddingInner":0.07,"paddingOuter":0.3}},"y":{"field":"value","type":"quantitative","scale":{"domain":[0.0883,0.704],"nice":false,"zero":false},"axis":null},"color":{"field":"Treatment","type":"nominal","scale":{"domain":["con","FLG"],"range":["#0073C2","#EFC000"]}}}},
{"data":{"name":"sig"},"transform":[{"filter":"datum.Time==='FLG_6h'"}],"mark":{"type":"text","fontSize":16,"baseline":"middle","dy":3,"color":"black"},"encoding":{"x":{"field":"Genotype","type":"nominal","scale":{"domain":["Col-0","pkl-1","clf28","idm1","idm2"],"paddingInner":0,"paddingOuter":0.07},"axis":{"title":null,"labelAngle":0,"domain":false,"tickSize":4,"tickColor":"#222","labelColor":"#222","labelFontSize":12,"labelPadding":2}},"xOffset":{"field":"Treatment","type":"nominal","scale":{"domain":["con","FLG"],"paddingInner":0.07,"paddingOuter":0.3}},"y":{"field":"y","type":"quantitative","scale":{"domain":[0.0883,0.704],"nice":false,"zero":false},"axis":null},"text":{"field":"label"}}}
]}
]
}
